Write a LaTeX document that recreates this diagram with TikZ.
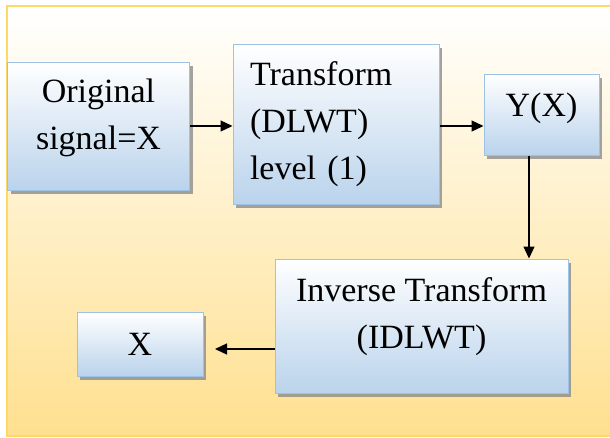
\documentclass[tikz,border=0pt]{standalone}
\usepackage{fontspec}
\setmainfont{Liberation Serif}
\usetikzlibrary{shadows,arrows.meta}
\definecolor{boxblue}{HTML}{BAD3EC}
\definecolor{boxline}{HTML}{9EC2E6}
\definecolor{bggold}{HTML}{FFE08F}
\definecolor{bgline}{HTML}{FFD966}
\newcommand\lowerpad[1]{\rule[-#1pt]{0pt}{1pt}}
\begin{document}
\begin{tikzpicture}[x=1pt,y=-1pt,
  blk/.style={draw=boxline, line width=1pt, top color=white, bottom color=boxblue,
    inner sep=0pt, font=\fontsize{34}{47}\selectfont, text=black,
    drop shadow={shadow xshift=3pt, shadow yshift=-4pt, fill=black!45, opacity=0.8}},
  arr/.style={-{Triangle[length=12pt,width=11pt]}, line width=1.3pt, black}]
\useasboundingbox (0,0) rectangle (610,437);
\clip (0,0) rectangle (610,437);
\shade[top color=white, bottom color=bggold] (7,6) rectangle (640,436);
\draw[bgline, line width=1.5pt] (7,6) rectangle (640,436);

\node[blk, minimum width=182pt, minimum height=128pt, align=center] (orig) at (98.5,126) {Original\\signal=X\lowerpad{23}};
\node[blk, minimum width=206pt, minimum height=160pt, text width=172pt, align=left] (dlwt) at (336,124) {Transform\\(DLWT)\\level (1)};
\node[blk, minimum width=115pt, minimum height=81pt] (yx) at (541.5,114.5) {Y(X)\lowerpad{20}};
\node[blk, minimum width=293pt, minimum height=134pt, align=center] (inv) at (421.5,326) {Inverse Transform\\(IDLWT)\lowerpad{26}};
\node[blk, minimum width=126pt, minimum height=64pt] (x) at (140,344) {X};

\draw[arr] (orig.east) -- (orig.east -| dlwt.west);
\draw[arr] (dlwt.east |- orig.east) -- (yx.west |- orig.east);
\draw[arr] ([xshift=-12.5pt]yx.south) -- ([xshift=-12.5pt]yx.south |- inv.north);
\coordinate (xend) at (215,349);
\draw[arr] (inv.west |- xend) -- (xend);
\end{tikzpicture}
\end{document}
